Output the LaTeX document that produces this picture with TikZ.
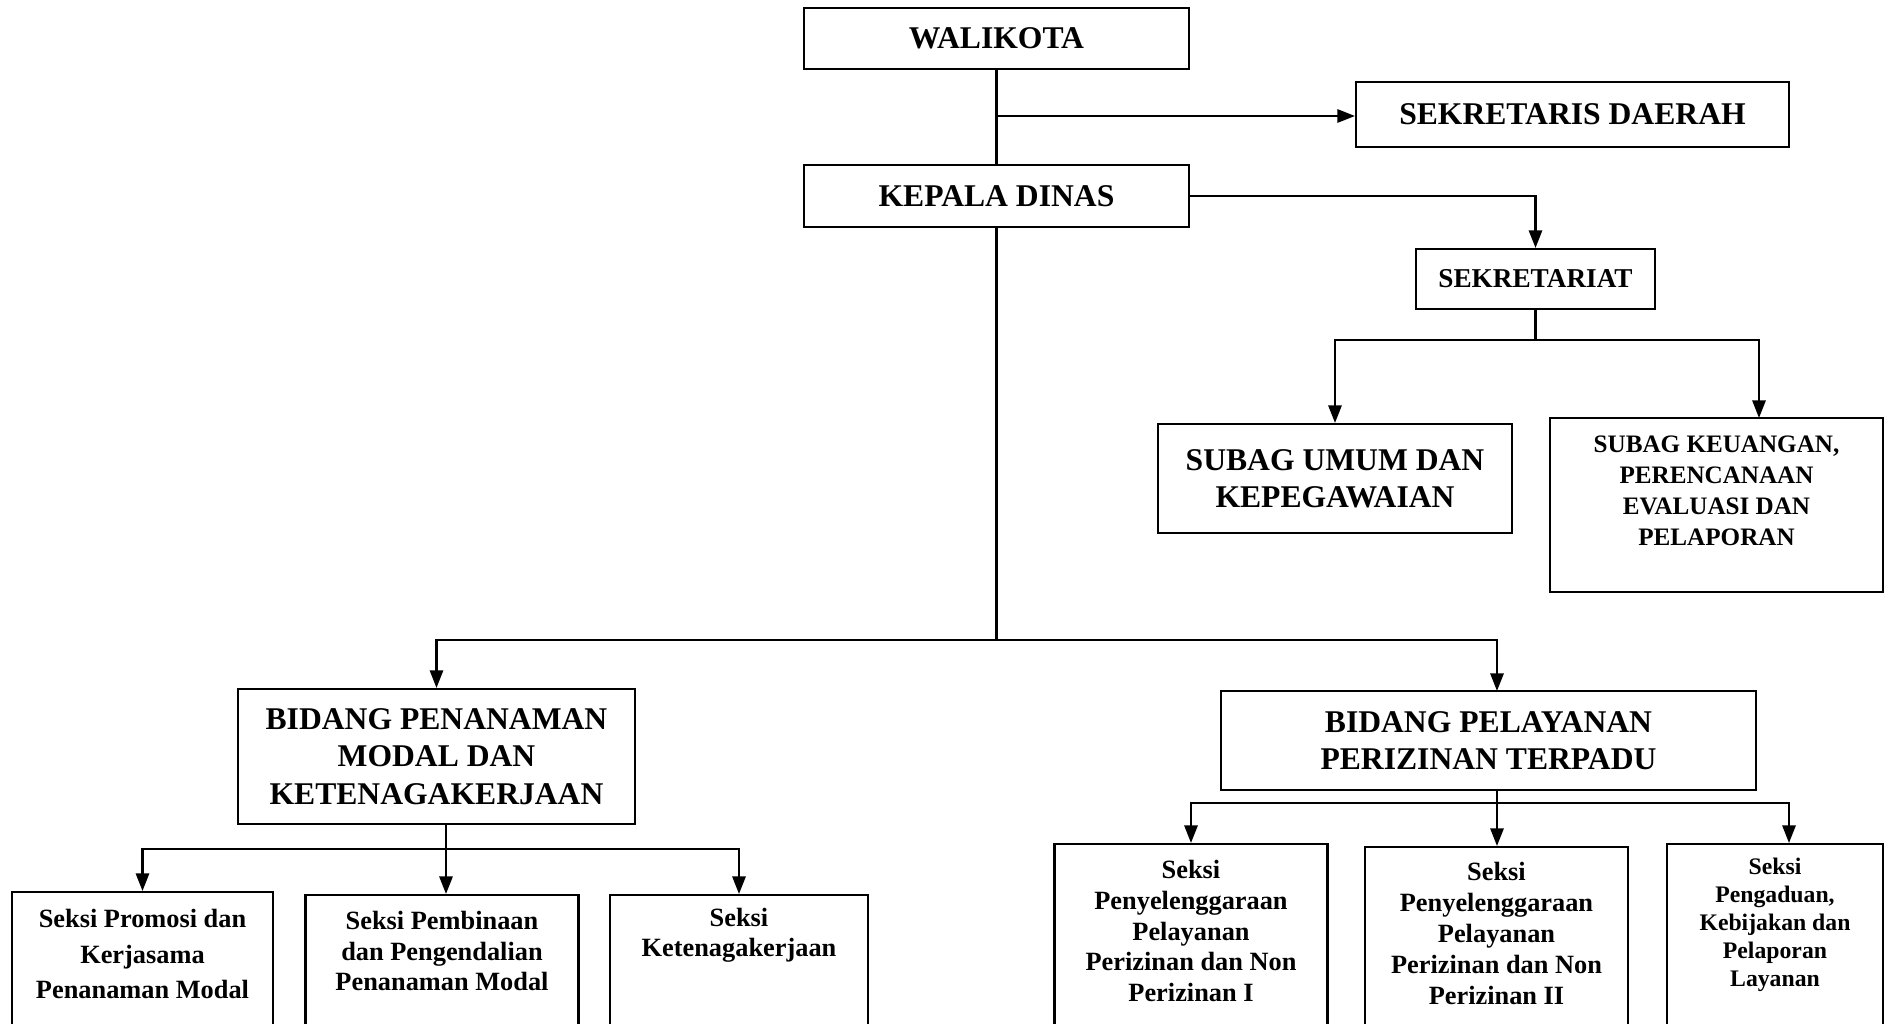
\documentclass[tikz,border=0pt]{standalone}
\usepackage{fontspec}
\setmainfont{Liberation Serif}
\usetikzlibrary{arrows.meta}

\begin{document}
\begin{tikzpicture}[x=0.02cm, y=-0.02cm,
	box/.style={draw, line width=1.2pt, inner sep=0pt, align=center},
	big/.style={font=\bfseries\fontsize{18}{21.2}\selectfont},
	seksi/.style={box, minimum height=3.8cm, anchor=north},
	txt/.style={align=center, inner sep=0pt, font=\bfseries\fontsize{15}{17.6}\selectfont},
	ln/.style={line width=1.3pt},
	arr/.style={ln, -{Triangle[length=10pt, width=7.5pt]}},
	]
	\useasboundingbox (0,0) rectangle (1894,1024);
	% pimpinan
	\node[box, big, minimum width=7.7cm, minimum height=1.22cm] (wali) at (996.5,38.5) {WALIKOTA};
	\node[box, big, minimum width=8.66cm, minimum height=1.3cm] (sekda) at (1572.5,114.5) {SEKRETARIS DAERAH};
	\node[box, big, minimum width=7.7cm, minimum height=1.24cm] (kadis) at (996.5,196) {KEPALA DINAS};
	% sekretariat
	\node[box, font=\bfseries\fontsize{15.5}{17.6}\selectfont, minimum width=4.78cm, minimum height=1.2cm] (sekret) at (1535.5,279) {SEKRETARIAT};
	\node[box, big, minimum width=7.08cm, minimum height=2.18cm] (umum) at (1335,478.5) {SUBAG UMUM DAN\\KEPEGAWAIAN};
	\node[box, minimum width=6.66cm, minimum height=3.48cm] (keu) at (1716.5,505) {};
	\node[txt, font=\bfseries\fontsize{14.3}{17.6}\selectfont] (keutxt) at (1716.5,491) {SUBAG KEUANGAN,\\PERENCANAAN\\EVALUASI DAN\\PELAPORAN};
	% bidang
	\node[box, big, minimum width=7.94cm, minimum height=2.7cm] (bpm) at (436.5,756.5) {BIDANG PENANAMAN\\MODAL DAN\\KETENAGAKERJAAN};
	\node[box, big, minimum width=10.7cm, minimum height=1.98cm] (bpp) at (1488.5,740.5) {BIDANG PELAYANAN\\PERIZINAN TERPADU};
	% seksi bidang penanaman modal
	\node[seksi, minimum width=5.22cm] (s1) at (142.5,891) {};
	\node[seksi, minimum width=5.46cm] (s2) at (442,894) {};
	\node[seksi, minimum width=5.16cm] (s3) at (739,894) {};
	\node[txt, font=\bfseries\fontsize{15}{20.2}\selectfont] (s1txt) at (142.5,954) {Seksi Promosi dan\\Kerjasama\\Penanaman Modal};
	\node[txt, font=\bfseries\fontsize{15}{17.2}\selectfont] (s2txt) at (442,951) {Seksi Pembinaan\\dan Pengendalian\\Penanaman Modal};
	\node[txt, font=\bfseries\fontsize{15}{17.2}\selectfont] (s3txt) at (739,935.5) {Seksi\\Ketenagakerjaan};
	% seksi bidang pelayanan perizinan
	\node[seksi, minimum width=5.46cm] (r1) at (1191,843) {};
	\node[seksi, minimum width=5.26cm] (r2) at (1496.5,846) {};
	\node[seksi, minimum width=4.32cm] (r3) at (1775,843) {};
	\node[txt] (r1txt) at (1191,931) {Seksi\\Penyelenggaraan\\Pelayanan\\Perizinan dan Non\\Perizinan I};
	\node[txt] (r2txt) at (1496.5,933.5) {Seksi\\Penyelenggaraan\\Pelayanan\\Perizinan dan Non\\Perizinan II};
	\node[txt, font=\bfseries\fontsize{13.5}{15.9}\selectfont] (r3txt) at (1775,924.5) {Seksi\\Pengaduan,\\Kebijakan dan\\Pelaporan\\Layanan};
	% titik cabang
	\coordinate (j1) at (996.5,116);
	\coordinate (j2) at (1535.5,340);
	\coordinate (keuin) at (1759,418);
	\coordinate (j3) at (996.5,640);
	\coordinate (bppin) at (1497,691);
	\coordinate (j4) at (446,849);
	\coordinate (j5) at (1497,803);
	\coordinate (r3in) at (1789,843);
	% garis
	\draw[ln] (wali) -- (kadis);
	\draw[arr] (j1) -- (j1 -| sekda.west);
	\draw[arr] (kadis.east) -| (sekret.north);
	\draw[ln] (sekret) -- (j2);
	\draw[arr] (j2) -| (umum.north);
	\draw[arr] (j2) -| (keuin);
	\draw[ln] (kadis) -- (j3);
	\draw[arr] (j3) -| (bpm.north);
	\draw[arr] (j3) -| (bppin);
	\draw[arr] (bpm.south -| j4) -- (s2.north -| j4);
	\draw[arr] (j4) -| (s1.north);
	\draw[arr] (j4) -| (s3.north);
	\draw[arr] (bpp.south -| j5) -- (r2.north -| j5);
	\draw[arr] (j5) -| (r1.north);
	\draw[arr] (j5) -| (r3in);
\end{tikzpicture}
\end{document}
